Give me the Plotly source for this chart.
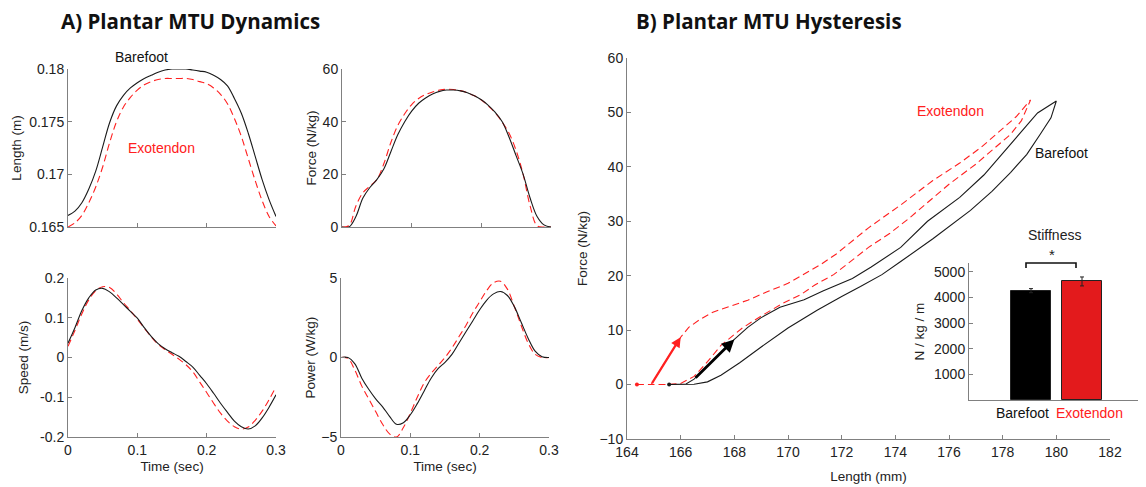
import plotly.graph_objects as go

# ---------------- DATA ----------------
time_s = [0.00, 0.01, 0.02, 0.03, 0.04, 0.05, 0.06, 0.07, 0.08, 0.09, 0.10,
          0.11, 0.12, 0.13, 0.14, 0.15, 0.16, 0.17, 0.18, 0.19, 0.20,
          0.21, 0.22, 0.23, 0.24, 0.25, 0.26, 0.27, 0.28, 0.29, 0.30]

length_bf = [0.1661, 0.1665, 0.1673, 0.1686, 0.1703, 0.1726, 0.1749, 0.1765, 0.1775, 0.1782, 0.1787,
             0.1791, 0.1794, 0.1797, 0.1799, 0.1800, 0.1800, 0.1800, 0.1799, 0.1798, 0.1797,
             0.1794, 0.1790, 0.1784, 0.1772, 0.1758, 0.1739, 0.1717, 0.1695, 0.1676, 0.1660]
length_ex = [0.1650, 0.1654, 0.1661, 0.1673, 0.1688, 0.1707, 0.1730, 0.1750, 0.1764, 0.1773, 0.1780,
             0.1785, 0.1788, 0.1790, 0.1791, 0.1791, 0.1791, 0.1791, 0.1790, 0.1788, 0.1786,
             0.1782, 0.1776, 0.1767, 0.1753, 0.1736, 0.1715, 0.1694, 0.1675, 0.1660, 0.1651]

force_bf = [0, 0, 4, 11, 15, 18, 22, 28.5, 35, 40, 44,
            47, 49, 50.5, 51.5, 52, 52, 51.7, 51, 49.8, 48.3,
            46.2, 43.5, 40, 34, 27, 20, 11, 4, 0.8, 0]
force_ex = [0, 0.5, 8, 13, 15.5, 18, 24, 32, 38.5, 43, 46.5,
            48.8, 50.3, 51.3, 52, 52.3, 52.2, 51.8, 51, 49.8, 48.2,
            46, 43.3, 39.8, 35.5, 29, 20, 8, 0.5, 0, 0]

speed_bf = [0.036, 0.075, 0.118, 0.150, 0.170, 0.174, 0.165, 0.150, 0.133, 0.116, 0.099,
            0.075, 0.053, 0.035, 0.022, 0.012, 0.003, -0.010, -0.024, -0.045, -0.066,
            -0.090, -0.115, -0.138, -0.160, -0.174, -0.180, -0.172, -0.152, -0.125, -0.094]
speed_ex = [0.028, 0.068, 0.110, 0.145, 0.168, 0.178, 0.176, 0.160, 0.138, 0.118, 0.096,
            0.074, 0.052, 0.033, 0.020, 0.008, -0.004, -0.018, -0.036, -0.062, -0.088,
            -0.115, -0.140, -0.160, -0.174, -0.180, -0.175, -0.158, -0.135, -0.106, -0.074]

power_bf = [0, 0, -0.4, -1.3, -2.0, -2.6, -3.1, -3.7, -4.2, -4.1, -3.6,
            -2.9, -2.1, -1.3, -0.7, -0.3, 0.2, 0.9, 1.6, 2.3, 3.0,
            3.6, 4.0, 4.15, 3.9, 3.2, 2.2, 1.2, 0.4, 0.05, 0]
power_ex = [0, -0.05, -0.8, -1.8, -2.6, -3.4, -4.2, -4.8, -5.0, -4.4, -3.5,
            -2.5, -1.6, -1.0, -0.5, 0.0, 0.6, 1.3, 2.0, 2.8, 3.5,
            4.2, 4.7, 4.8, 4.3, 3.2, 2.0, 0.9, 0.2, 0, 0]

# Hysteresis loops (length mm, force N/kg)
bf_load_len = [165.57, 166.2, 166.5, 167.0, 167.5, 168.0, 168.5, 169.0, 169.7, 170.6, 171.3,
               172.4, 173.1, 174.2, 175.2, 176.4, 177.3, 178.3, 179.3, 180.0]
bf_load_force = [0, 0.1, 1.0, 3.4, 5.8, 8.3, 10.5, 12.3, 14.2, 15.6, 17.2,
                 19.5, 21.6, 25.2, 30.0, 34.4, 38.5, 44.3, 49.9, 52.1]
bf_unload_len = [180.0, 179.8, 179.4, 178.9, 178.3, 177.6, 176.8, 176.0, 175.4, 174.2, 173.5,
                 172.7, 172.0, 171.1, 170.0, 169.0, 168.2, 167.5, 167.0, 166.5, 165.57]
bf_unload_force = [52.1, 49.0, 46.0, 42.3, 39.0, 35.5, 32.0, 29.0, 26.8, 22.6, 20.2,
                   18.0, 16.2, 13.7, 10.4, 6.9, 4.0, 1.7, 0.5, 0.05, 0]

ex_load_len = [164.37, 164.9, 165.45, 166.0, 166.3, 166.7, 167.2, 168.0, 168.5, 169.2,
               170.0, 170.5, 171.2, 171.8, 172.5, 173.0, 174.2, 175.4, 176.4, 177.2,
               177.9, 178.5, 179.04]
ex_load_force = [0, 0, 4.4, 8.7, 10.5, 11.9, 13.3, 14.7, 15.5, 17.0,
                 18.6, 20.0, 22.0, 24.0, 26.8, 28.8, 33.0, 37.5, 40.7, 43.6,
                 46.6, 49.2, 52.3]
ex_unload_len = [179.04, 178.7, 178.3, 177.6, 177.0, 176.0, 175.2, 174.5, 173.8, 173.0, 172.3,
                 171.7, 171.0, 170.5, 169.8, 169.0, 168.3, 167.5, 167.0, 166.5, 166.0,
                 165.5, 164.9]
ex_unload_force = [52.3, 48.5, 46.0, 43.0, 40.5, 36.8, 33.4, 30.5, 27.8, 25.2, 22.5,
                   20.2, 18.3, 16.6, 14.9, 12.6, 10.4, 7.2, 4.2, 1.5, 0.2,
                   0, 0]

conditions = ["Barefoot", "Exotendon"]
stiffness = [4270, 4630]
stiffness_err = [80, 175]

tl_ticks = [0.165, 0.17, 0.175, 0.18]
tl_text = ["0.165", "0.17", "0.175", "0.18"]
tr_ticks = [0, 20, 40, 60]
bl_ticks = [-0.2, -0.1, 0, 0.1, 0.2]
bl_text = ["-0.2", "-0.1", "0", "0.1", "0.2"]
br_ticks = [-5, 0, 5]
time_ticks = [0, 0.1, 0.2, 0.3]
time_text = ["0", "0.1", "0.2", "0.3"]
hyst_x_ticks = [164, 166, 168, 170, 172, 174, 176, 178, 180, 182]
hyst_y_ticks = [-10, 0, 10, 20, 30, 40, 50, 60]
inset_y_ticks = [1000, 2000, 3000, 4000, 5000]

# ---------------- STYLE ----------------
BLACK = "#1a1a1a"
RED = "#ff2020"
BAR_RED = "#e31a1c"
AX = "#808080"
FONT = "Liberation Sans, Arial, sans-serif"
OFF = 8                      # default page body margin
W, H = 1146 - OFF, 487 - OFF


def px(x):
    return (x - OFF) / W


def py(y):
    return 1 - (y - OFF) / H


fig = go.Figure()

line_bf = dict(color=BLACK, width=1.1)
line_ex = dict(color=RED, width=1.1, dash="7px,4px")

pairs = [
    ("x", "y", length_bf, length_ex),
    ("x2", "y2", force_bf, force_ex),
    ("x3", "y3", speed_bf, speed_ex),
    ("x4", "y4", power_bf, power_ex),
]
for xa, ya, bf, ex in pairs:
    fig.add_trace(go.Scatter(x=time_s, y=ex, mode="lines", line=line_ex, line_shape="spline",
                             xaxis=xa, yaxis=ya, showlegend=False, cliponaxis=False))
    fig.add_trace(go.Scatter(x=time_s, y=bf, mode="lines", line=line_bf, line_shape="spline",
                             xaxis=xa, yaxis=ya, showlegend=False, cliponaxis=False))

# hysteresis loops
fig.add_trace(go.Scatter(x=ex_load_len + ex_unload_len[1:], y=ex_load_force + ex_unload_force[1:],
                         mode="lines", line=line_ex, xaxis="x5", yaxis="y5", showlegend=False))
fig.add_trace(go.Scatter(x=bf_load_len + bf_unload_len[1:], y=bf_load_force + bf_unload_force[1:],
                         mode="lines", line=line_bf, xaxis="x5", yaxis="y5", showlegend=False))
fig.add_trace(go.Scatter(x=[ex_load_len[0]], y=[ex_load_force[0]], mode="markers",
                         marker=dict(color=RED, size=4), xaxis="x5", yaxis="y5", showlegend=False))
fig.add_trace(go.Scatter(x=[bf_load_len[0]], y=[bf_load_force[0]], mode="markers",
                         marker=dict(color=BLACK, size=4), xaxis="x5", yaxis="y5", showlegend=False))

# inset bars
fig.add_trace(go.Bar(x=[0, 1], y=stiffness, width=0.8,
                     marker=dict(color=["#000000", BAR_RED], line=dict(color="#222222", width=1)),
                     error_y=dict(type="data", array=stiffness_err, color="#222222", thickness=1, width=2),
                     xaxis="x6", yaxis="y6", showlegend=False))

tickfont = dict(family=FONT, size=14, color="#222222")
titlefont = dict(family=FONT, size=13.5, color="#222222")


def axis(domain, rng, tickvals=None, ticktext=None, anchor=None, title=None, showlabels=True, standoff=None):
    d = dict(domain=domain, range=rng, showline=True, linecolor=AX, linewidth=1,
             ticks="inside", ticklen=4, tickcolor=AX, showgrid=False, zeroline=False,
             tickfont=tickfont, showticklabels=showlabels, mirror=False, fixedrange=True,
             automargin=False)
    if tickvals is not None:
        d["tickvals"] = tickvals
    if ticktext is not None:
        d["ticktext"] = ticktext
    if anchor:
        d["anchor"] = anchor
    if title:
        d["title"] = dict(text=title, font=titlefont)
        if standoff is not None:
            d["title"]["standoff"] = standoff
    return d


layout = dict(
    width=W, height=H, margin=dict(l=0, r=0, t=0, b=0, autoexpand=False),
    paper_bgcolor="white", plot_bgcolor="rgba(0,0,0,0)",
    font=dict(family=FONT, color="#222222"),
    showlegend=False, bargap=0,
)

tl_x = [px(68), px(276)]
tr_x = [px(342), px(551)]
br_x = [px(341), px(549)]
top_y = [py(227), py(69)]
bot_y = [py(437), py(278)]

layout["xaxis"] = axis(tl_x, [0, 0.3], time_ticks, time_text, anchor="y", showlabels=False)
layout["yaxis"] = axis(top_y, [0.165, 0.18], tl_ticks, tl_text, anchor="x", title="Length (m)", standoff=4)
layout["xaxis2"] = axis(tr_x, [0, 0.3], time_ticks, time_text, anchor="y2", showlabels=False)
layout["yaxis2"] = axis(top_y, [0, 60], tr_ticks, None, anchor="x2", title="Force (N/kg)", standoff=2)
layout["xaxis3"] = axis(tl_x, [0, 0.3], time_ticks, time_text, anchor="y3", title="Time (sec)", standoff=4)
layout["yaxis3"] = axis(bot_y, [-0.2, 0.2], bl_ticks, bl_text, anchor="x3", title="Speed (m/s)", standoff=8)
layout["xaxis4"] = axis(br_x, [0, 0.3], time_ticks, time_text, anchor="y4", title="Time (sec)", standoff=4)
layout["yaxis4"] = axis(bot_y, [-5, 5], br_ticks, None, anchor="x4", title="Power (W/kg)", standoff=2)
layout["xaxis5"] = axis([px(627), px(1110)], [164, 182], hyst_x_ticks, None, anchor="y5",
                        title="Length (mm)", standoff=12)
layout["yaxis5"] = axis([py(439), py(58)], [-10, 60], hyst_y_ticks, None, anchor="x5",
                        title="Force (N/kg)", standoff=8)
layout["xaxis6"] = axis([px(969), px(1143)], [-1.216, 2.196], [], None, anchor="y6", showlabels=False)
layout["xaxis6"]["ticks"] = ""
layout["yaxis6"] = axis([py(400), py(263)], [0, 5350], inset_y_ticks, None, anchor="x6",
                        title="N / kg / m", standoff=6)

annotations = []


def text(x, y, s, color="#222222", size=13, family=FONT, xanchor="center"):
    annotations.append(dict(x=px(x), y=py(y), xref="paper", yref="paper", text=s, showarrow=False,
                            xanchor=xanchor, yanchor="middle",
                            font=dict(family=family, size=size, color=color)))


text(59, 21, "<b>A) Plantar MTU Dynamics</b>", color="#111111", size=20.5,
     family="Open Sans, Liberation Sans, sans-serif", xanchor="left")
text(634, 21, "<b>B) Plantar MTU Hysteresis</b>", color="#111111", size=20.5,
     family="Open Sans, Liberation Sans, sans-serif", xanchor="left")
text(141, 57, "Barefoot", color="#111111", size=14)
text(161, 148, "Exotendon", color=RED, size=14)
text(950, 111, "Exotendon", color=RED, size=14)
text(1061, 153, "Barefoot", color="#111111", size=14)
text(1054, 235, "Stiffness", size=14)
text(1052, 254, "*", size=15)
text(1022, 413, conditions[0], color="#111111", size=14)
text(1089, 413, conditions[1], color=RED, size=14)

# direction arrows on the hysteresis plot
annotations.append(dict(x=166.0, y=8.7, ax=164.9, ay=0.0, xref="x5", yref="y5", axref="x5", ayref="y5",
                        showarrow=True, arrowhead=2, arrowsize=0.9, arrowwidth=2.2, arrowcolor=RED, text=""))
annotations.append(dict(x=168.0, y=8.3, ax=166.5, ay=1.0, xref="x5", yref="y5", axref="x5", ayref="y5",
                        showarrow=True, arrowhead=2, arrowsize=0.9, arrowwidth=2.8, arrowcolor="#000000", text=""))
layout["annotations"] = annotations

# significance bracket
layout["shapes"] = [dict(type="path", xref="paper", yref="paper",
                         path=f"M {px(1026)} {py(268)} L {px(1026)} {py(263)} L {px(1076)} {py(263)} L {px(1076)} {py(268)}",
                         line=dict(color="#111111", width=1.6))]

fig.update_layout(**layout)
fig.write_html("out.html")
